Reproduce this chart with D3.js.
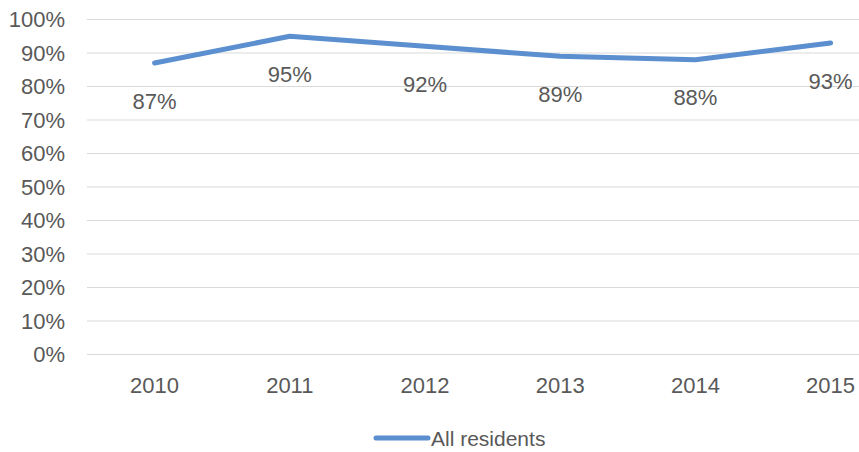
<!DOCTYPE html>
<html>
<head>
<meta charset="utf-8">
<script src="https://cdn.jsdelivr.net/npm/d3@7"></script>
<style>
  body { margin: 0; background: #fff; }
  text { font-family: "Liberation Sans", Arial, sans-serif; fill: #595959; }
</style>
</head>
<body>
<div id="chart"></div>
<script>
const years = ["2010", "2011", "2012", "2013", "2014", "2015"];
const allResidents = [87, 95, 92, 89, 88, 93];
const yTicks = [0, 10, 20, 30, 40, 50, 60, 70, 80, 90, 100];
const seriesName = "All residents";

const width = 859, height = 452;
const color = "#5b8fcf";

const svg = d3.select("#chart").append("svg")
    .attr("width", width)
    .attr("height", height);

// Scales: bands so the points sit at the middle of each category
const x = d3.scaleBand()
    .domain(years)
    .range([87, 87 + 6 * 135.2]);

const y = d3.scaleLinear()
    .domain([0, 100])
    .range([354.5, 19.5]);

// Gridlines
svg.append("g")
    .selectAll("line")
    .data(yTicks)
    .join("line")
    .attr("x1", 87)
    .attr("x2", width)
    .attr("y1", d => y(d))
    .attr("y2", d => y(d))
    .attr("stroke", "#d9d9d9")
    .attr("stroke-width", 1);

// Y axis labels
svg.append("g")
    .selectAll("text")
    .data(yTicks)
    .join("text")
    .attr("x", 65)
    .attr("y", d => y(d))
    .attr("dy", "0.35em")
    .attr("text-anchor", "end")
    .style("font-size", "22px")
    .text(d => d + "%");

// X axis labels
svg.append("g")
    .selectAll("text")
    .data(years)
    .join("text")
    .attr("x", d => x(d) + x.bandwidth() / 2)
    .attr("y", 385)
    .attr("dy", "0.35em")
    .attr("text-anchor", "middle")
    .style("font-size", "22px")
    .text(d => d);

// Line
const line = d3.line()
    .x((d, i) => x(years[i]) + x.bandwidth() / 2)
    .y(d => y(d));

svg.append("path")
    .datum(allResidents)
    .attr("fill", "none")
    .attr("stroke", color)
    .attr("stroke-width", 5)
    .attr("stroke-linecap", "round")
    .attr("stroke-linejoin", "round")
    .attr("d", line);

// Data labels below each point
svg.append("g")
    .selectAll("text")
    .data(allResidents)
    .join("text")
    .attr("x", (d, i) => x(years[i]) + x.bandwidth() / 2)
    .attr("y", d => y(d) + 38)
    .attr("dy", "0.35em")
    .attr("text-anchor", "middle")
    .style("font-size", "22px")
    .text(d => d + "%");

// Legend
const legend = svg.append("g");
legend.append("line")
    .attr("x1", 376)
    .attr("x2", 428)
    .attr("y1", 438)
    .attr("y2", 438)
    .attr("stroke", color)
    .attr("stroke-width", 5)
    .attr("stroke-linecap", "round");
legend.append("text")
    .attr("x", 431)
    .attr("y", 439)
    .attr("dy", "0.35em")
    .style("font-size", "21px")
    .text(seriesName);
</script>
</body>
</html>
